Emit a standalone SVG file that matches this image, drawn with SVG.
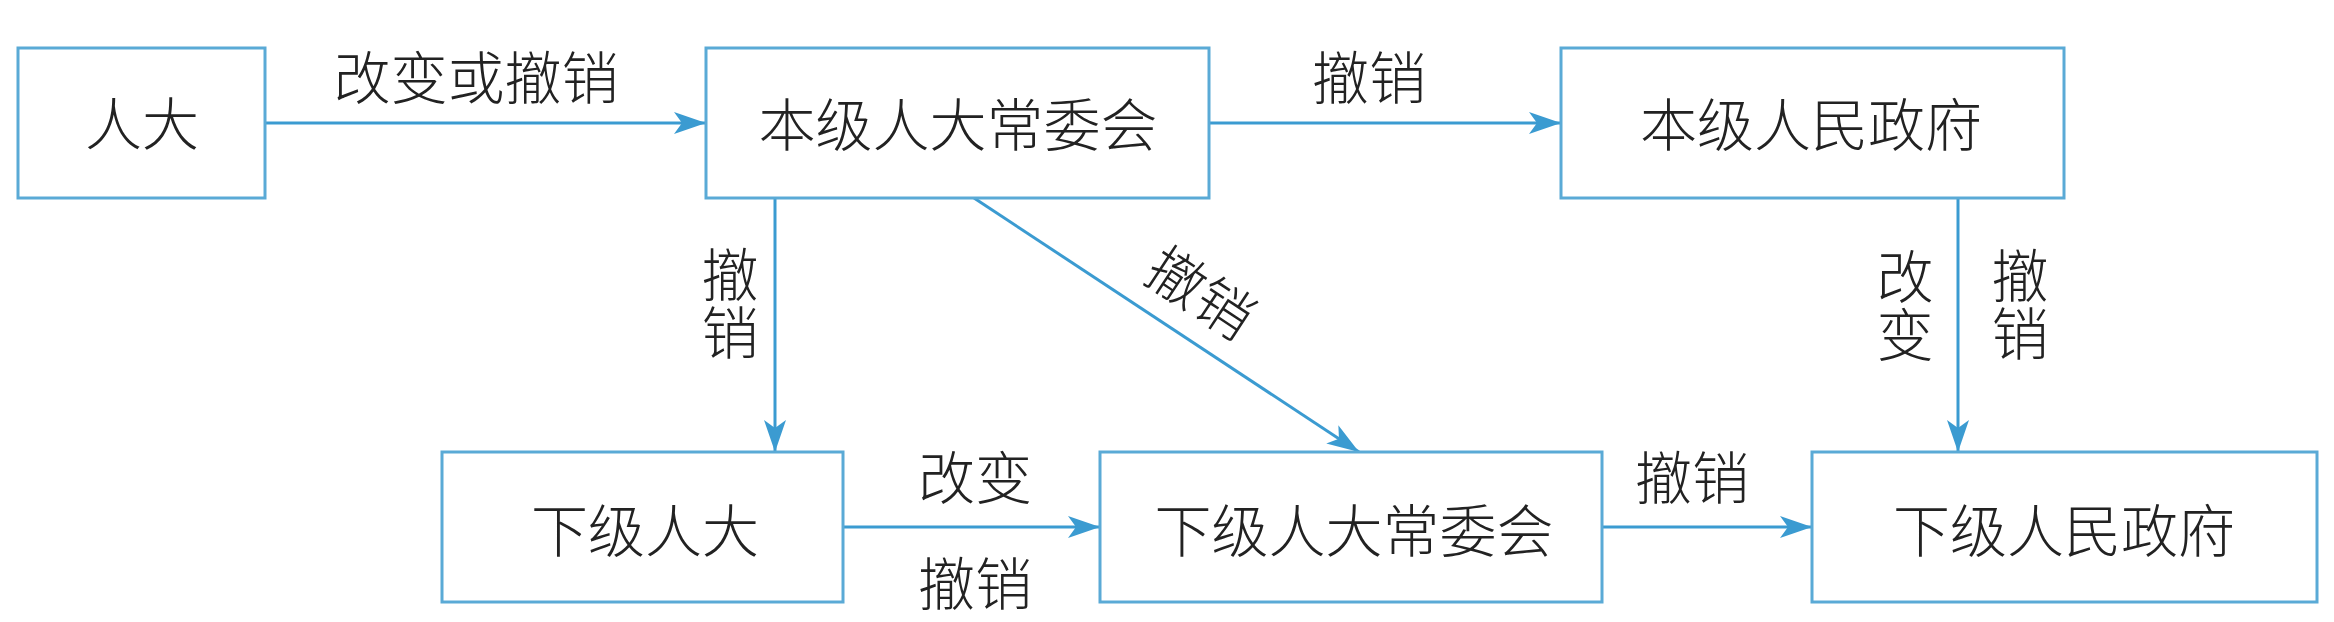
<svg xmlns="http://www.w3.org/2000/svg" width="2334" height="622" viewBox="0 0 2334 622">
<defs>
<style>
.box{fill:#fff;stroke:#5aaad6;stroke-width:3}
.t{font-family:"Noto Sans CJK SC","Noto Sans CJK TC",sans-serif;font-size:57px;fill:#222;text-anchor:middle;font-weight:300}
.v{writing-mode:vertical-rl;letter-spacing:1px}
.c{stroke:#3b9bd1;stroke-width:3;fill:none}
</style>
<marker id="ah" markerUnits="userSpaceOnUse" markerWidth="34" markerHeight="22" refX="32" refY="11" orient="auto">
<path d="M0,0 L32,11 L0,22 L8,11 Z" fill="#3b9bd1"/>
</marker>
</defs>
<rect width="2334" height="622" fill="#fff"/>
<g id="connectors">
<line class="c" x1="265" y1="123" x2="706" y2="123" marker-end="url(#ah)"/>
<line class="c" x1="1209" y1="123" x2="1561" y2="123" marker-end="url(#ah)"/>
<line class="c" x1="775" y1="198" x2="775" y2="452" marker-end="url(#ah)"/>
<line class="c" x1="974" y1="198" x2="1359" y2="452" marker-end="url(#ah)"/>
<line class="c" x1="1958" y1="198" x2="1958" y2="452" marker-end="url(#ah)"/>
<line class="c" x1="843" y1="527" x2="1100" y2="527" marker-end="url(#ah)"/>
<line class="c" x1="1602" y1="527" x2="1812" y2="527" marker-end="url(#ah)"/>
<text class="t" x="476" y="99">改变或撤销</text>
<text class="t" x="1369" y="99">撤销</text>
<text class="t v" x="730" y="304">撤销</text>
<text class="t" transform="translate(1201,292) rotate(33.4)" x="0" y="22">撤销</text>
<text class="t v" x="1905" y="306">改变</text>
<text class="t v" x="2020" y="305">撤销</text>
<text class="t" x="975" y="499">改变</text>
<text class="t" x="975" y="605">撤销</text>
<text class="t" x="1692" y="499">撤销</text>
</g>
<g id="n1"><rect class="box" x="18" y="48" width="247" height="150"/><text class="t" x="142" y="145">人大</text></g>
<g id="n2"><rect class="box" x="706" y="48" width="503" height="150"/><text class="t" x="958" y="146">本级人大常委会</text></g>
<g id="n3"><rect class="box" x="1561" y="48" width="503" height="150"/><text class="t" x="1811" y="146">本级人民政府</text></g>
<g id="n4"><rect class="box" x="442" y="452" width="401" height="150"/><text class="t" x="645" y="552">下级人大</text></g>
<g id="n5"><rect class="box" x="1100" y="452" width="502" height="150"/><text class="t" x="1354" y="552">下级人大常委会</text></g>
<g id="n6"><rect class="box" x="1812" y="452" width="505" height="150"/><text class="t" x="2064" y="552">下级人民政府</text></g>
</svg>
